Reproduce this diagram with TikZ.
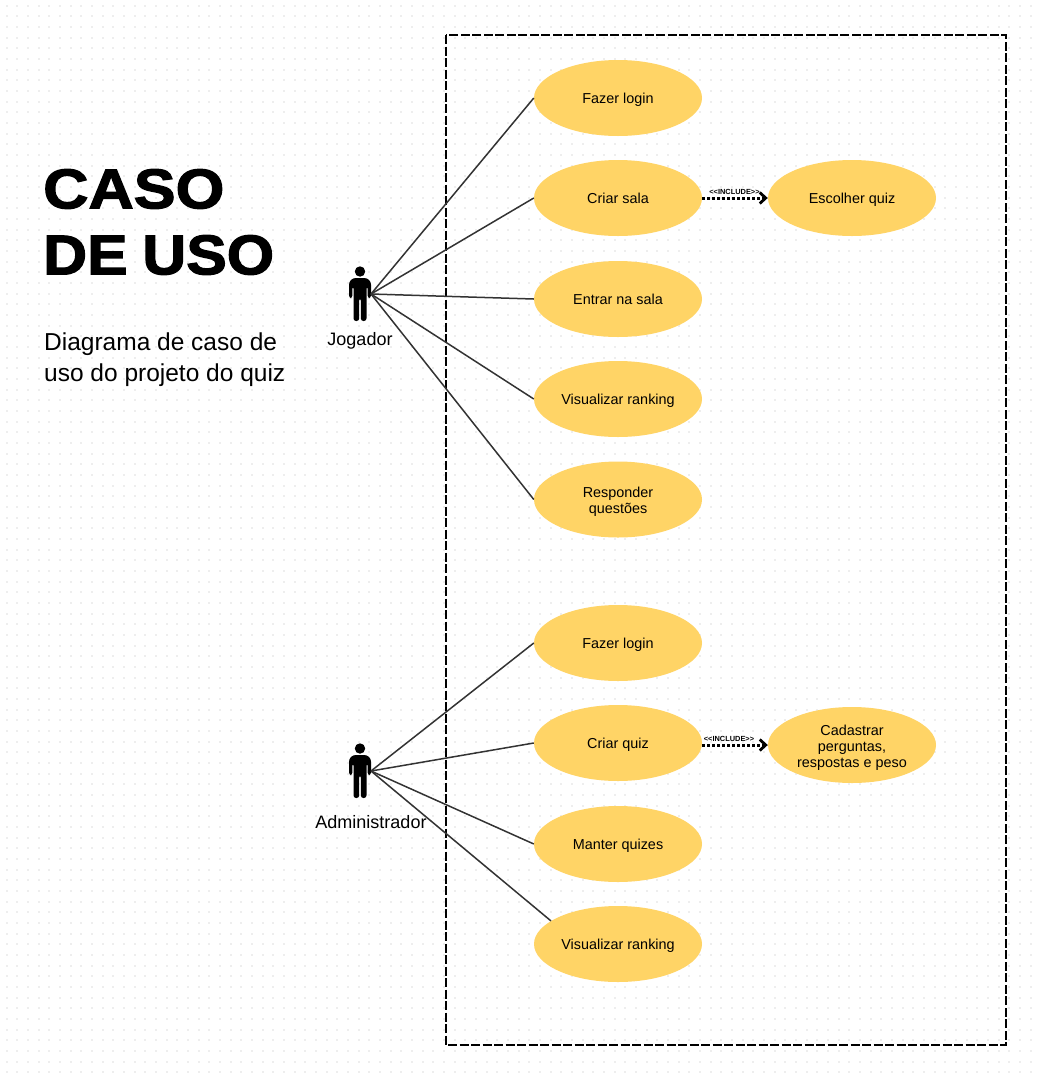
\documentclass[tikz,border=0pt]{standalone}
\usepackage{fontspec}
\setmainfont{Liberation Sans}
\newfontfamily\titlefont[FakeBold=2.2,FakeStretch=1.12]{Liberation Sans Bold}
\newfontfamily\titlefontb[FakeBold=2.2,FakeStretch=1.085]{Liberation Sans Bold}
\usetikzlibrary{shapes.geometric,arrows.meta}
\definecolor{bgdot}{HTML}{EEEEEE}
\definecolor{usecase}{HTML}{FFD466}
\definecolor{linkc}{HTML}{333333}
\newcommand{\firstlinetall}{\rule{0pt}{16pt}}
\tikzset{
  usecasenode/.style={ellipse,fill=usecase,minimum width=168pt,minimum height=76pt,inner sep=0pt,align=center,font=\fontsize{14.4}{16}\selectfont,text=black,execute at begin node={\rule{0pt}{14pt}},execute at end node={\rule[-4pt]{0pt}{4pt}}},
  assoc/.style={draw=linkc,line width=1.5pt},
  incl/.style={draw=black,line width=3pt,dash pattern=on 2.6pt off 2.4pt,-{Straight Barb[length=6pt,width=11pt,line width=2.8pt]}},
  incllabel/.style={font=\bfseries\fontsize{7.4}{8}\selectfont,inner sep=0pt},
  actorlabel/.style={font=\fontsize{18}{20}\selectfont,inner sep=0pt},
  titletext/.style={font=\titlefont\fontsize{56}{64}\selectfont,anchor=west,inner sep=0pt},
  titletextb/.style={font=\titlefontb\fontsize{56}{64}\selectfont,anchor=west,inner sep=0pt},
  subtext/.style={font=\fontsize{24.5}{32}\selectfont,anchor=west,inner sep=0pt},
  actorbody/.style={fill=black,draw=none}
}
\newcommand{\actorfig}[2]{%
  \fill[actorbody] (#1+0,#2-22.5) circle (5.2pt);
  \fill[actorbody,rounded corners=2.6pt] (#1-11,#2+4) -- (#1-11,#2-12) -- (#1-7,#2-16) -- (#1+7,#2-16) -- (#1+11,#2-12) -- (#1+11,#2+4) -- (#1+7.6,#2+4) -- (#1+7.6,#2-8) -- (#1+6.5,#2-8) -- (#1+6.5,#2+27) -- (#1+0.8,#2+27) -- (#1+0.8,#2+4) -- (#1-0.8,#2+4) -- (#1-0.8,#2+27) -- (#1-6.5,#2+27) -- (#1-6.5,#2-8) -- (#1-7.6,#2-8) -- (#1-7.6,#2+4) -- cycle;
}
\begin{document}
\begin{tikzpicture}[x=1pt,y=-1pt]
\useasboundingbox (0,0) rectangle (1037,1077);
\fill[white] (0,0) rectangle (1037,1077);
% dotted background
\foreach \i in {0,...,96}{
  \foreach \j in {0,...,100}{
    \pgfmathsetmacro{\dx}{5.5+10.667*\i}
    \pgfmathsetmacro{\dy}{4.5+10.667*\j}
    \fill[bgdot] (\dx,\dy) rectangle ++(2.2,2.2);
  }
}
% frame
\draw[black,line width=1.6pt,dash pattern=on 9pt off 2.5pt] (446,35) rectangle (1006,1045);
% title
\node[titletext] (title1) at (43,189) {CASO};
\node[titletextb] (title2) at (43,255) {DE\hspace{-2pt} USO};
\node[subtext] (sub1) at (44,344) {Diagrama de caso de};
\node[subtext] (sub2) at (44,375) {uso do projeto do quiz};
% use cases
\node[usecasenode] (j1) at (618,98) {Fazer login};
\node[usecasenode] (j2) at (618,198) {Criar sala};
\node[usecasenode] (j3) at (618,299) {Entrar na sala};
\node[usecasenode] (j4) at (618,399) {Visualizar ranking};
\node[usecasenode] (j5) at (618,499.5) {\firstlinetall Responder\\questões};
\node[usecasenode] (jq) at (852,198) {Escolher quiz};
\node[usecasenode] (a1) at (618,643) {Fazer login};
\node[usecasenode] (a2) at (618,743) {Criar quiz};
\node[usecasenode] (a3) at (618,844) {Manter quizes};
\node[usecasenode] (a4) at (618,944) {Visualizar ranking};
\node[usecasenode] (aq) at (852,745) {\firstlinetall Cadastrar\\perguntas,\\respostas e peso};
% actors
\actorfig{360}{294}
\actorfig{360}{771}
\coordinate (jog) at (371,294);
\coordinate (adm) at (371,771);
\node[actorlabel] (jogl) at (360,340.5) {Jogador};
\node[actorlabel] (adml) at (371,822) {Administrador};
% associations
\foreach \t in {j1,j2,j3,j4,j5} \draw[assoc] (jog) -- (\t.west);
\foreach \t in {a1,a2,a3} \draw[assoc] (adm) -- (\t.west);
\draw[assoc] (adm) -- (a4.161);
% includes
\draw[incl] (j2.east) -- (jq.west);
\coordinate (a2e) at (a2.east |- aq.west);
\draw[incl] (a2e) -- (aq.west);
\node[incllabel] (il1) at (734.5,192) {<{}<INCLUDE>{}>};
\node[incllabel] (il2) at (729,739) {<{}<INCLUDE>{}>};
\end{tikzpicture}
\end{document}
